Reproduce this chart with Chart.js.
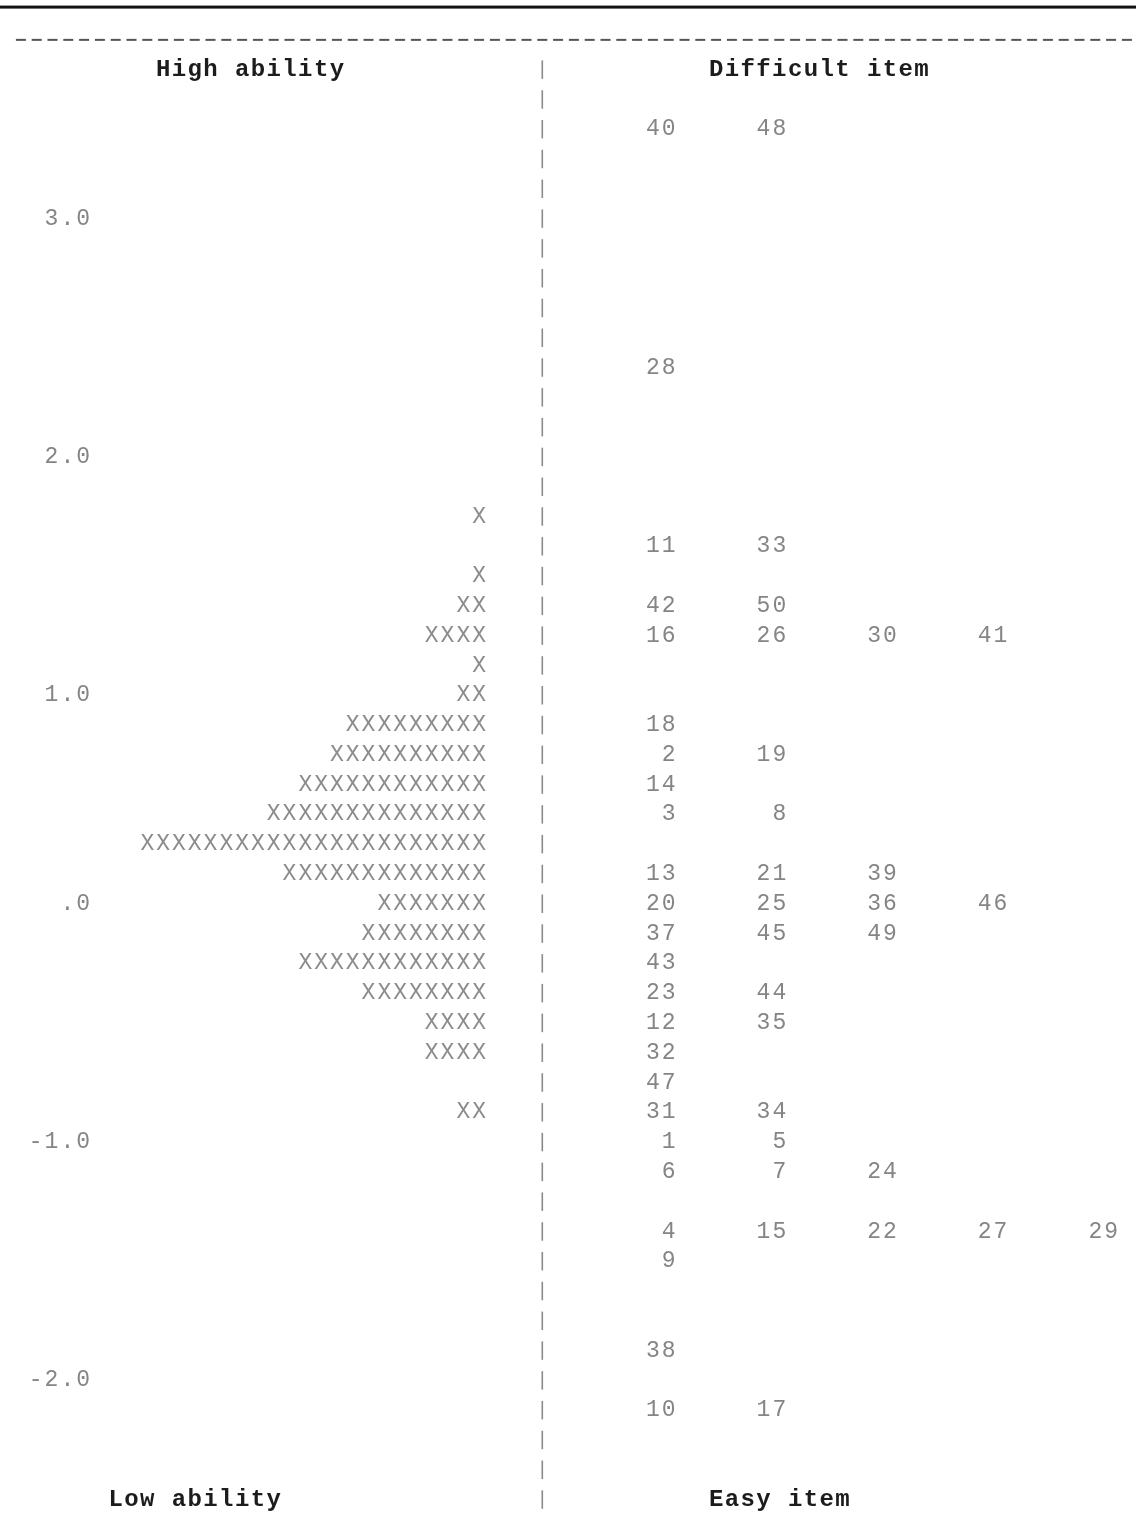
<!DOCTYPE html>
<html>
<head>
<meta charset="utf-8">
<script src="https://cdn.jsdelivr.net/npm/chart.js@4.4.1/dist/chart.umd.min.js"></script>
<style>
  html, body { margin: 0; padding: 0; background: #fff; }
</style>
</head>
<body>
<canvas id="map" width="1136" height="1522"></canvas>
<script>
// text rows of the map: row 0 = header line, row 48 = footer line
const tickRows = [5, 13, 21, 28, 36, 44];
const tickLabels = ["3.0", "2.0", "1.0", ".0", "-1.0", "-2.0"];

// persons: one X per person on each row
const personRows = [15, 17, 18, 19, 20, 21, 22, 23, 24, 25, 26, 27, 28, 29, 30, 31, 32, 33, 35];
const personCounts = [1, 1, 2, 4, 1, 2, 9, 10, 12, 14, 22, 13, 7, 8, 12, 8, 4, 4, 2];

// items placed on each row
const itemRows = [2, 10, 16, 18, 19, 22, 23, 24, 25, 27, 28, 29, 30, 31, 32, 33, 34, 35, 36, 37, 39, 40, 43, 45];
const itemNumbers = [
    [40, 48], [28], [11, 33], [42, 50], [16, 26, 30, 41], [18], [2, 19], [14], [3, 8],
    [13, 21, 39], [20, 25, 36, 46], [37, 45, 49], [43], [23, 44], [12, 35], [32], [47],
    [31, 34], [1, 5], [6, 7, 24], [4, 15, 22, 27, 29], [9], [38], [10, 17]
];

const headerTexts = ["High ability", "Difficult item"];
const footerTexts = ["Low ability", "Easy item"];

// layout in character cells (monospace grid)
const CELL_PX = 15.8;
const PERSON_END = 30;     // X's end at this cell edge
const BAR_CELL = 33;       // column of the "|" separator
const ITEM_END = 42;       // right edge of first item column
const ITEM_STEP = 7;
const HEAD_START = [9, 44];
const FOOT_START = [6, 44];
const LAST_ROW = 48;

const MONO = "'Liberation Mono', 'Courier New', monospace";
const GREY = "#858585";

const personPoints = [];
personRows.forEach((row, i) => {
    for (let j = 0; j < personCounts[i]; j++) {
        personPoints.push({ x: PERSON_END - j - 0.5, y: row });
    }
});

const itemPoints = [];
itemRows.forEach((row, i) => {
    itemNumbers[i].forEach((n, k) => {
        itemPoints.push({ x: ITEM_END + k * ITEM_STEP, y: row, label: String(n) });
    });
});

function drawCells(ctx, xs, text, startCell, py) {
    for (let i = 0; i < text.length; i++) {
        if (text[i] === " ") continue;
        ctx.fillText(text[i], xs.getPixelForValue(startCell + i + 0.5), py);
    }
}

// tick labels use the same character pitch as the rest of the text
const spacingPlugin = {
    id: "spacing",
    beforeDraw(chart) {
        chart.ctx.letterSpacing = "2px";
    }
};

// draws the frame: top rule, dashed row, separator bar, headers
const framePlugin = {
    id: "frame",
    afterDraw(chart) {
        const ctx = chart.ctx;
        const xs = chart.scales.x;
        const ys = chart.scales.y;
        const rowH = ys.getPixelForValue(1) - ys.getPixelForValue(0);
        ctx.save();
        ctx.letterSpacing = "0px";

        // solid rule at the very top
        ctx.fillStyle = "#111";
        const ruleY = ys.getPixelForValue(-2.1);
        ctx.fillRect(0, ruleY - 1.5, chart.width, 3);

        // row of hyphens
        ctx.fillStyle = "#555";
        const dashY = ys.getPixelForValue(-1);
        for (let c = 0; c < 72; c++) {
            const cx = xs.getPixelForValue(c + 0.5);
            ctx.fillRect(cx - 5, dashY - 1, 10, 2);
        }

        // "|" separator on every row
        ctx.fillStyle = "#8a8a8a";
        const barX = xs.getPixelForValue(BAR_CELL + 0.5);
        for (let r = 0; r <= LAST_ROW; r++) {
            const py = ys.getPixelForValue(r);
            ctx.fillRect(barX - 0.8, py - rowH * 0.31, 1.6, rowH * 0.62);
        }

        // headers and footers
        ctx.fillStyle = "#1c1c1c";
        ctx.font = "bold 24px " + MONO;
        ctx.textAlign = "center";
        ctx.textBaseline = "middle";
        headerTexts.forEach((t, i) => drawCells(ctx, xs, t, HEAD_START[i], ys.getPixelForValue(0)));
        footerTexts.forEach((t, i) => drawCells(ctx, xs, t, FOOT_START[i], ys.getPixelForValue(LAST_ROW)));
        ctx.restore();
    }
};

// draws the X marks and the item numbers at their points
const textMarksPlugin = {
    id: "textMarks",
    afterDatasetsDraw(chart) {
        const ctx = chart.ctx;
        const xs = chart.scales.x;
        const cw = xs.getPixelForValue(1) - xs.getPixelForValue(0);
        ctx.save();
        ctx.letterSpacing = "0px";
        ctx.font = "23px " + MONO;
        ctx.textAlign = "center";
        ctx.textBaseline = "middle";

        chart.getDatasetMeta(0).data.forEach((el) => {
            ctx.fillStyle = "#8c8c8c";
            ctx.fillText("X", el.x, el.y);
        });

        const items = chart.data.datasets[1].data;
        chart.getDatasetMeta(1).data.forEach((el, i) => {
            const label = items[i].label;
            ctx.fillStyle = GREY;
            for (let j = 0; j < label.length; j++) {
                const cx = el.x - (label.length - j - 0.5) * cw;
                ctx.fillText(label[j], cx, el.y);
            }
        });
        ctx.restore();
    }
};

new Chart(document.getElementById("map"), {
    type: "scatter",
    data: {
        datasets: [
            { label: "Persons", data: personPoints, pointRadius: 0, pointHoverRadius: 0 },
            { label: "Items", data: itemPoints, pointRadius: 0, pointHoverRadius: 0 }
        ]
    },
    options: {
        responsive: false,
        devicePixelRatio: 1,
        animation: false,
        events: [],
        layout: { padding: 0 },
        plugins: {
            legend: { display: false },
            tooltip: { enabled: false }
        },
        scales: {
            x: {
                type: "linear",
                display: false,
                min: 5,
                max: 5 + (1136 - 92) / CELL_PX
            },
            y: {
                type: "linear",
                reverse: true,
                min: -1.875,
                max: 48.29,
                afterFit: (scale) => { scale.width = 92; },
                afterBuildTicks: (scale) => {
                    scale.ticks = tickRows.map((v) => ({ value: v }));
                },
                ticks: {
                    autoSkip: false,
                    padding: 0,
                    color: GREY,
                    font: { family: MONO, size: 23 },
                    callback: (value) => tickLabels[tickRows.indexOf(value)]
                },
                grid: { display: false, drawTicks: false },
                border: { display: false }
            }
        }
    },
    plugins: [spacingPlugin, framePlugin, textMarksPlugin]
});
</script>
</body>
</html>
